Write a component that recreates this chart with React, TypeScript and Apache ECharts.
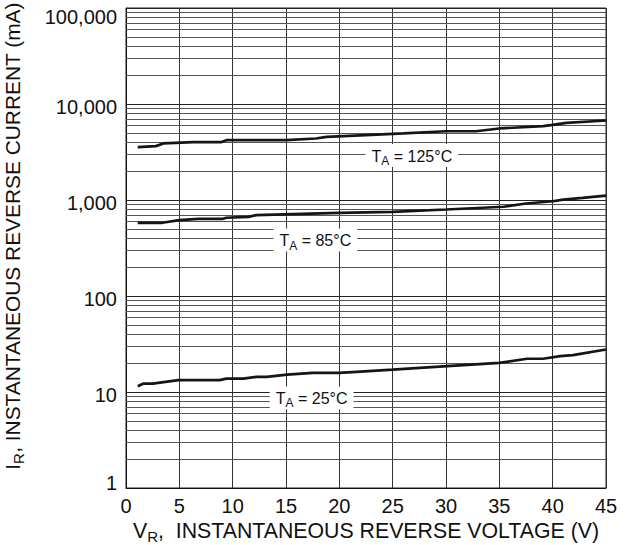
import React, { useEffect, useRef } from "react";
import * as echarts from "echarts";

// ---- data ----
const curve125: [number, number][] = [
  [1.1, 3550], [2.8, 3640], [3.5, 3880], [6.3, 4000], [8.9, 4000], [9.4, 4200],
  [15, 4200], [17.8, 4370], [18.8, 4550], [22.5, 4750], [26, 4950], [30, 5200],
  [32.8, 5200], [35, 5560], [39.1, 5880], [40, 6050], [41.3, 6360], [45, 6730],
];
const curve85: [number, number][] = [
  [1.1, 579], [3.4, 579], [5, 616], [6.8, 637], [9.1, 637], [9.4, 653],
  [11.5, 668], [12.2, 695], [20, 735], [25, 753], [30, 796], [35.4, 850],
  [37.5, 920], [40, 970], [41, 1010], [42.8, 1050], [45, 1110],
];
const curve25: [number, number][] = [
  [1.1, 11.5], [1.6, 12.2], [2.5, 12.2], [4.9, 13.3], [8.8, 13.3], [9.4, 13.8],
  [11, 13.8], [12.3, 14.4], [13.2, 14.4], [15.1, 15.2], [17.5, 15.8], [20, 15.8],
  [22, 16.3], [25, 17.1], [30.1, 18.6], [35, 20.1], [37.6, 22.2], [39.1, 22.2],
  [40.7, 23.6], [41.9, 24.2], [45, 27.7],
];
const curveLabels = ["125°C", "85°C", "25°C"];
const labelAnchors: [number, number][] = [[26.8, 2900], [17.75, 383], [17.4, 8.66]];

const yTickLabels: Record<number, string> = {
  1: "1", 10: "10", 100: "100", 1000: "1,000", 10000: "10,000", 100000: "100,000",
};
const minorMultipliers = [2, 3, 4, 5, 6, 7, 8, 9];
const decades = [1, 10, 100, 1000, 10000];

const FONT = "'Liberation Sans', Arial, Helvetica, sans-serif";

export default function App() {
  const ref = useRef<HTMLDivElement>(null);
  useEffect(() => {
    document.body.style.margin = "0";
    if (!ref.current) return;
    const chart = echarts.init(ref.current, undefined, { renderer: "svg" });
    const minorLines: { yAxis: number }[] = [];
    decades.forEach((d) => minorMultipliers.forEach((m) => minorLines.push({ yAxis: d * m })));

    const lineStyle = { color: "#151515", width: 2.7 };
    const curveSeries = [curve125, curve85, curve25].map((data) => ({
      type: "line",
      data,
      showSymbol: false,
      symbol: "none",
      lineStyle,
      z: 5,
      silent: true,
    }));

    chart.setOption({
      animation: false,
      textStyle: { fontFamily: FONT },
      grid: {
        left: 126, right: 25, top: 8, bottom: 57,
        outerBoundsMode: "none",
        containLabel: false,
        show: true, borderColor: "#222", borderWidth: 1, backgroundColor: "#fff",
      },
      xAxis: {
        type: "value", min: 0, max: 45, interval: 5,
        axisLine: { lineStyle: { color: "#111", width: 1 } },
        axisTick: { show: false },
        splitLine: { show: true, lineStyle: { color: "#333", width: 1 } },
        axisLabel: { color: "#111", fontSize: 20, margin: 8, fontFamily: FONT },
        name: "{m|V}{s|R}{m|,  INSTANTANEOUS REVERSE VOLTAGE (V)}",
        nameLocation: "middle",
        nameGap: 29,
        nameTextStyle: {
          color: "#111", fontFamily: FONT,
          rich: {
            m: { fontSize: 21.3, fontFamily: FONT, color: "#111" },
            s: { fontSize: 15, fontFamily: FONT, color: "#111", padding: [10, 0, 0, 0] },
          },
        },
      },
      yAxis: {
        type: "log", logBase: 10, min: 1, max: 100000,
        axisLine: { show: true, lineStyle: { color: "#111", width: 1 } },
        axisTick: { show: false },
        splitLine: { show: true, lineStyle: { color: "#222", width: 1 } },
        axisLabel: {
          color: "#111", fontSize: 20, margin: 9, fontFamily: FONT,
          formatter: (v: number) => {
            const key = Math.round(v);
            const t = yTickLabels[key] ?? String(key);
            if (key === 100000) return `{a|${t}}`;
            if (key === 1) return `{c|${t}}`;
            return `{b|${t}}`;
          },
          rich: {
            a: { fontSize: 20, fontFamily: FONT, color: "#111", padding: [17, 0, 0, 0] },
            b: { fontSize: 20, fontFamily: FONT, color: "#111", padding: [6, 0, 0, 0] },
            c: { fontSize: 20, fontFamily: FONT, color: "#111", padding: [0, 0, 10, 0] },
          },
        },
        name: "{m|I}{s|R}{m|, INSTANTANEOUS REVERSE CURRENT (mA)}",
        nameLocation: "middle",
        nameGap: 100,
        nameTextStyle: {
          color: "#111", fontFamily: FONT,
          padding: [0, 0, 0, 24],
          rich: {
            m: { fontSize: 20.9, fontFamily: FONT, color: "#111" },
            s: { fontSize: 15, fontFamily: FONT, color: "#111", padding: [13, 0, 0, 0] },
          },
        },
      },
      series: [
        {
          type: "line",
          data: [],
          z: 1,
          silent: true,
          markLine: {
            silent: true,
            symbol: ["none", "none"],
            label: { show: false },
            lineStyle: { color: "#555", width: 1, type: "solid" },
            data: minorLines,
          },
        },
        ...curveSeries,
      ],
    });

    const graphics = labelAnchors.map((p, i) => {
      const px = chart.convertToPixel({ xAxisIndex: 0, yAxisIndex: 0 }, p) as number[];
      return {
        type: "text",
        z: 20,
        x: px[0],
        y: px[1],
        style: {
          text: `{t|T}{s|A}{t| = ${curveLabels[i]}}`,
          align: "center",
          verticalAlign: "middle",
          backgroundColor: "#fff",
          padding: [1, 6, 0, 6],
          rich: {
            t: { fontSize: 16, fontFamily: FONT, fill: "#111" },
            s: { fontSize: 12, fontFamily: FONT, fill: "#111", padding: [10, 0, 0, 0] },
          },
        },
      };
    });
    chart.setOption({ graphic: graphics });

    return () => chart.dispose();
  }, []);
  return <div ref={ref} style={{ width: 631, height: 545 }} />;
}
